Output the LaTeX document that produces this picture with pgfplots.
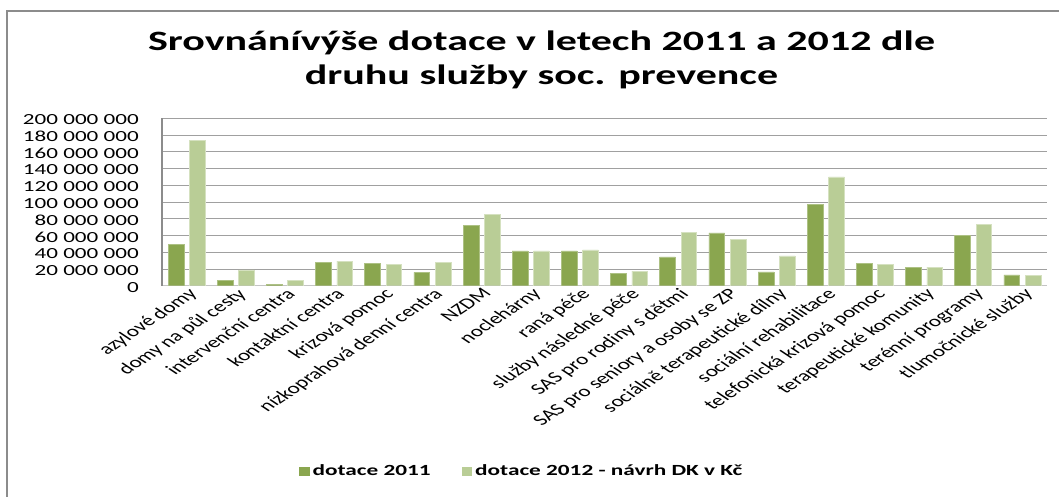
\documentclass[border=0pt]{standalone}
\usepackage{graphicx}
\usepackage{fontspec}
\setmainfont{Carlito}
\usepackage{pgfplots}
\pgfplotsset{compat=1.18}
\definecolor{dark11}{HTML}{8AA64F}
\definecolor{light12}{HTML}{B9CD96}
\definecolor{frameGray}{HTML}{8C8C8C}
\definecolor{gridGray}{HTML}{A0A0A0}
\definecolor{baseGray}{HTML}{C4C4C4}

% chart is drawn narrow and stretched 1.5x horizontally, like the reference
\begin{document}
\scalebox{1.5}[1]{%
\begin{tikzpicture}
\useasboundingbox (0pt,0pt) rectangle (706pt,-497pt);
\draw[frameGray, line width=1.3pt] (4.7pt,-520pt) -- (4.7pt,-11pt) -- (720pt,-11pt);
\node[anchor=base, font=\bfseries\fontsize{28}{34}\selectfont] at (361pt,-51pt)
    {Srovnánívýše dotace v letech 2011 a 2012 dle};
\node[anchor=base, font=\bfseries\fontsize{28}{34}\selectfont] at (361pt,-85pt)
    {druhu služby soc. prevence};
\begin{axis}[
    at = {(108pt,-285.7pt)},
    anchor = south west,
    scale only axis,
    width = 590pt,
    height = 167.4pt,
    xmin = -0.5, xmax = 17.5,
    ymin = 0, ymax = 200000000,
    scaled y ticks = false,
    ybar = 3.7pt,
    bar width = 10.5pt,
    axis lines = left,
    axis line style = {-},
    x axis line style = {baseGray, line width=1.4pt},
    y axis line style = {frameGray, line width=0.7pt},
    major tick length = 0pt,
    ymajorgrids = true,
    grid style = {gridGray, line width=0.8pt},
    xtick = {0,...,17},
    xticklabels = {azylové domy, domy na půl cesty, intervenční centra,
        kontaktní centra, krizová pomoc, nízkoprahová denní centra, NZDM,
        noclehárny, raná péče, služby následné péče, SAS pro rodiny s dětmi,
        SAS pro seniory a osoby se ZP, sociálně terapeutické dílny,
        sociální rehabilitace, telefonická krizová pomoc,
        terapeutické komunity, terénní programy, tlumočnické služby},
    xticklabel style = {rotate=45, anchor=north east, inner sep=1pt,
        font=\fontsize{15.5}{18}\selectfont},
    ytick = {0,20000000,40000000,60000000,80000000,100000000,120000000,
        140000000,160000000,180000000,200000000},
    yticklabels = {0, 20 000 000, 40 000 000, 60 000 000, 80 000 000,
        100 000 000, 120 000 000, 140 000 000, 160 000 000, 180 000 000,
        200 000 000},
    yticklabel style = {anchor=east, inner sep=0pt, xshift=-15.3pt,
        yshift=-1.5pt, font=\fontsize{15.4}{18}\selectfont},
    legend style = {at={(0.155,-1.107)}, anchor=west, draw=none,
        fill=none, inner sep=0pt, legend columns=2,
        font=\bfseries\fontsize{15.5}{18}\selectfont,
        nodes={inner sep=2pt},
        /tikz/every even column/.append style={column sep=19pt}},
    legend image code/.code={\draw[#1, draw=none] (0pt,-4.5pt) rectangle (6.7pt,4.5pt);}
]
\addplot[fill=dark11, draw=dark11!70!white, line width=0.4pt] coordinates {
    (0,49500000) (1,6000000) (2,2000000) (3,28300000) (4,26500000)
    (5,16000000) (6,71700000) (7,41500000) (8,41500000) (9,14800000)
    (10,34300000) (11,63000000) (12,16400000) (13,97600000) (14,26300000)
    (15,22300000) (16,59800000) (17,12800000)};
\addlegendentry{dotace 2011}
\addplot[fill=light12, draw=light12!60!white, line width=0.4pt] coordinates {
    (0,174000000) (1,19000000) (2,6800000) (3,29500000) (4,25700000)
    (5,28300000) (6,85300000) (7,41500000) (8,42700000) (9,17500000)
    (10,63800000) (11,55400000) (12,35500000) (13,129900000) (14,25500000)
    (15,22300000) (16,73700000) (17,12000000)};
\addlegendentry{dotace 2012 - návrh DK v Kč}
\end{axis}
\end{tikzpicture}}
\end{document}
